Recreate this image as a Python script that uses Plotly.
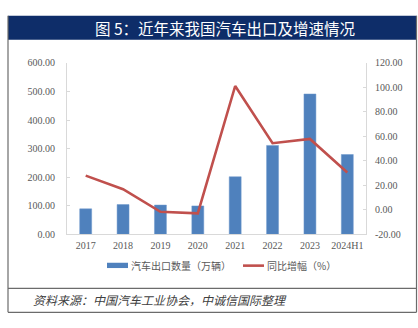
import plotly.graph_objects as go

W, H = 418, 328

categories = ["2017", "2018", "2019", "2020", "2021", "2022", "2023", "2024H1"]
export_volume = [89.1, 104.1, 102.4, 99.5, 201.5, 311.1, 491.0, 279.3]
yoy_growth = [27.9, 16.8, -1.6, -2.9, 101.1, 54.4, 57.9, 30.5]
left_ticks = [0, 100, 200, 300, 400, 500, 600]
right_ticks = [-20, 0, 20, 40, 60, 80, 100, 120]

BAR = "#4f81bd"
LINE = "#c0504d"
AX = "#d9d9d9"
TXT = "#595959"

def px(x):
    return x / W

def py(y):
    return 1 - y / H

fig = go.Figure()
fig.add_trace(go.Bar(x=categories, y=export_volume, marker=dict(color=BAR, line=dict(color="#6e98cc", width=0.5)),
                     name="汽车出口数量（万辆）", showlegend=False, yaxis="y"))
fig.add_trace(go.Scatter(x=categories, y=yoy_growth, mode="lines", line=dict(color=LINE, width=2.6),
                         name="同比增幅（%）", showlegend=False, yaxis="y2"))

tickfont = dict(family="Liberation Serif, Times New Roman, serif", size=10, color=TXT)

fig.update_layout(
    width=W, height=H,
    margin=dict(l=0, r=0, t=0, b=0),
    paper_bgcolor="white", plot_bgcolor="white",
    bargap=0.68,
    xaxis=dict(domain=[px(67), px(366)], type="category", showline=True, linecolor=AX, linewidth=1,
               ticks="", tickfont=tickfont, showgrid=False, zeroline=False, ticklabelstandoff=2),
    yaxis=dict(domain=[py(237), py(59)], range=[0, 600], tickvals=left_ticks,
               ticktext=[f"{v:.2f}" for v in left_ticks], showline=True, linecolor=AX, linewidth=1,
               ticks="inside", ticklen=3, tickcolor=AX, tickfont=tickfont, showgrid=False, zeroline=False,
               ticklabelstandoff=9),
    yaxis2=dict(domain=[py(237), py(59)], range=[-20, 120], tickvals=right_ticks,
                ticktext=[f"{v:.2f}" for v in right_ticks], overlaying="y", side="right", anchor="x",
                showline=True, linecolor=AX, linewidth=1, ticks="inside", ticklen=3, tickcolor=AX,
                tickfont=tickfont, showgrid=False, zeroline=False, ticklabelstandoff=6),
)

shapes = []
# title bar
shapes.append(dict(type="rect", xref="paper", yref="paper", x0=px(8), x1=px(416.5), y0=py(35), y1=py(10),
                   fillcolor="#0e2d69", line=dict(width=0), layer="below"))
BORDER = "#6b6b6b"
for (x0, y0, x1, y1) in [(8, 10, 8, 318), (416.5, 10, 416.5, 318), (8, 318, 416.5, 318), (8, 293, 416.5, 293)]:
    shapes.append(dict(type="line", xref="paper", yref="paper", x0=px(x0), x1=px(x1), y0=py(y0), y1=py(y1),
                       line=dict(color=BORDER, width=1.2)))
# legend symbols
shapes.append(dict(type="rect", xref="paper", yref="paper", x0=px(107), x1=px(128), y0=py(272), y1=py(266.5),
                   fillcolor=BAR, line=dict(width=0)))
shapes.append(dict(type="line", xref="paper", yref="paper", x0=px(243), x1=px(264), y0=py(269.5), y1=py(269.5),
                   line=dict(color=LINE, width=2.6)))
fig.update_layout(shapes=shapes)

cjk = "Noto Sans CJK SC"
ann = []
ann.append(dict(text="图 5：近年来我国汽车出口及增速情况", x=px(225), y=py(22.5), xref="paper", yref="paper",
                xanchor="center", yanchor="middle", showarrow=False,
                font=dict(family=cjk, size=15.5, color="white")))
ann.append(dict(text="汽车出口数量（万辆）", x=px(129), y=py(269.5), xref="paper", yref="paper",
                xanchor="left", yanchor="middle", showarrow=False, font=dict(family=cjk, size=10, color=TXT)))
ann.append(dict(text="同比增幅（%）", x=px(265), y=py(269.5), xref="paper", yref="paper",
                xanchor="left", yanchor="middle", showarrow=False, font=dict(family=cjk, size=10, color=TXT)))
ann.append(dict(text="<i>资料来源：中国汽车工业协会，中诚信国际整理</i>", x=px(31), y=py(305), xref="paper", yref="paper",
                xanchor="left", yanchor="middle", showarrow=False, font=dict(family=cjk, size=12, color="#404040")))
fig.update_layout(annotations=ann)

fig.write_html("out.html")
